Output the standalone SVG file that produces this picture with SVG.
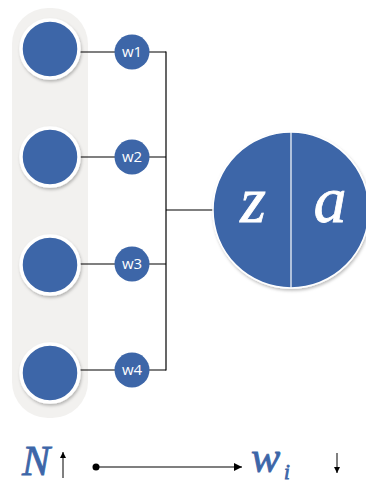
<svg xmlns="http://www.w3.org/2000/svg" width="366" height="484" viewBox="0 0 366 484">
  <defs>
    <filter id="soft" x="-30%" y="-30%" width="160%" height="160%">
      <feDropShadow dx="1" dy="2" stdDeviation="1.5" flood-color="#000" flood-opacity="0.25"/>
    </filter>
    <marker id="arrow" viewBox="0 0 10 10" refX="10" refY="5" markerWidth="8" markerHeight="8" orient="auto" markerUnits="userSpaceOnUse">
      <path d="M0,0 L10,5 L0,10 z" fill="#000"/>
    </marker>
    <marker id="arrowSmall" viewBox="0 0 10 10" refX="10" refY="5" markerWidth="6" markerHeight="6" orient="auto" markerUnits="userSpaceOnUse">
      <path d="M0,0 L10,5 L0,10 z" fill="#000"/>
    </marker>
  </defs>
  <style>
    .input { fill: #3d66a8; stroke: #ffffff; stroke-width: 3.5; }
    .weight { fill: #3d66a8; }
    .wlabel { font-family: "Open Sans", "Noto Sans", sans-serif; font-size: 15px; fill: #ffffff; text-anchor: middle; }
    .math { font-family: "Liberation Serif", "DejaVu Serif", serif; font-style: italic; }
    .blue { fill: #3d66a8; stroke: #3d66a8; stroke-width: 0.8; }
    .white { fill: #ffffff; stroke: #ffffff; stroke-width: 0.8; }
    .wire { stroke: #000; stroke-width: 1.2; fill: none; }
  </style>

  <rect width="366" height="484" fill="#ffffff"/>

  <!-- input layer panel -->
  <rect x="12" y="8" width="76" height="410" rx="36" ry="36" fill="#f2f1ef"/>

  <!-- connectors -->
  <g id="connectors" class="wire">
    <line x1="80" y1="52" x2="166" y2="52"/>
    <line x1="80" y1="157" x2="166" y2="157"/>
    <line x1="80" y1="264" x2="166" y2="264"/>
    <line x1="80" y1="370" x2="166" y2="370"/>
    <line x1="166" y1="51.4" x2="166" y2="370.6"/>
    <line x1="166" y1="210" x2="214" y2="210"/>
  </g>

  <!-- input neurons -->
  <g id="input1" filter="url(#soft)"><circle class="input" cx="50" cy="49" r="29"/></g>
  <g id="input2" filter="url(#soft)"><circle class="input" cx="50" cy="157" r="29"/></g>
  <g id="input3" filter="url(#soft)"><circle class="input" cx="50" cy="265" r="29"/></g>
  <g id="input4" filter="url(#soft)"><circle class="input" cx="50" cy="373" r="29"/></g>

  <!-- weights -->
  <g id="w1"><circle class="weight" cx="132" cy="52" r="17.5"/><text class="wlabel" x="132" y="57">w1</text></g>
  <g id="w2"><circle class="weight" cx="132" cy="157" r="17.5"/><text class="wlabel" x="132" y="162">w2</text></g>
  <g id="w3"><circle class="weight" cx="132" cy="264" r="17.5"/><text class="wlabel" x="132" y="269">w3</text></g>
  <g id="w4"><circle class="weight" cx="132" cy="370" r="17.5"/><text class="wlabel" x="132" y="375">w4</text></g>

  <!-- neuron: weighted sum z and activation a -->
  <g id="neuron">
    <circle cx="291" cy="210" r="78" fill="#3d66a8" stroke="#ffffff" stroke-width="1.5" filter="url(#soft)"/>
    <line x1="291" y1="132" x2="291" y2="288" stroke="#ffffff" stroke-width="1.2"/>
    <text class="math white" x="253" y="222" font-size="66" text-anchor="middle">z</text>
    <text class="math white" x="330" y="222" font-size="66" text-anchor="middle">a</text>
  </g>

  <!-- legend: more inputs -> smaller weights -->
  <g id="legend">
    <text class="math blue" x="22" y="475" font-size="42">N</text>
    <line x1="63" y1="478" x2="63" y2="452" stroke="#000" stroke-width="1" marker-end="url(#arrowSmall)"/>
    <circle cx="96" cy="467" r="3.5" fill="#000"/>
    <line x1="96" y1="467" x2="242" y2="467" stroke="#000" stroke-width="1.2" marker-end="url(#arrow)"/>
    <text class="math blue" x="251" y="472" font-size="44">w</text>
    <text class="math blue" x="284" y="479" font-size="21">i</text>
    <line x1="337" y1="453" x2="337" y2="473" stroke="#000" stroke-width="1" marker-end="url(#arrowSmall)"/>
  </g>
</svg>
